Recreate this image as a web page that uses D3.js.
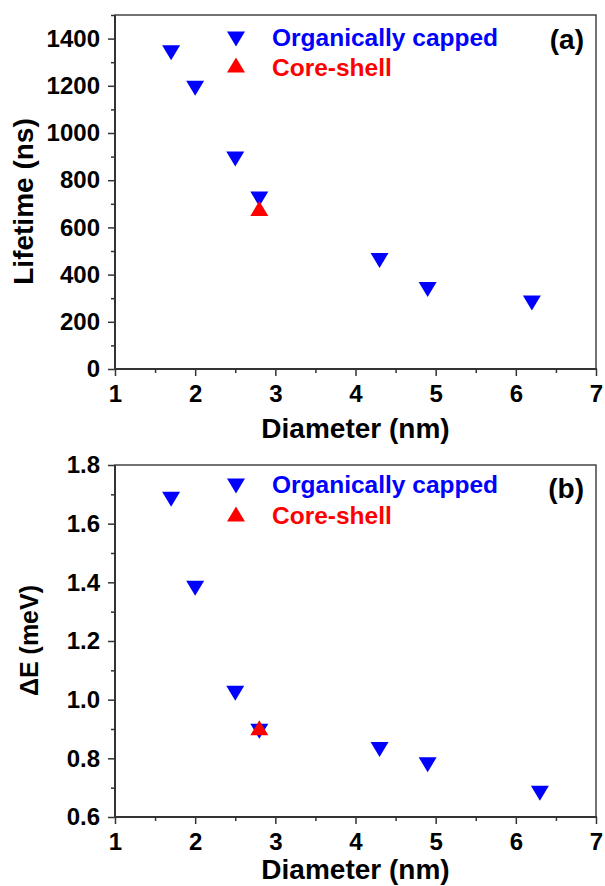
<!DOCTYPE html>
<html>
<head>
<meta charset="utf-8">
<script src="https://cdn.jsdelivr.net/npm/d3@7"></script>
<style>
  body { margin: 0; background: #fff; }
  text { font-family: "Liberation Sans", Arial, sans-serif; font-weight: bold; }
</style>
</head>
<body>
<script>
// panel (a) data
var diamA = [1.7, 2.0, 2.5, 2.8, 4.3, 4.9, 6.2];
var lifetimeA = [1340, 1190, 890, 720, 460, 337, 280];
var coreDiamA = [2.8];
var coreLifetimeA = [680];

// panel (b) data
var diamB = [1.7, 2.0, 2.5, 2.8, 4.3, 4.9, 6.3];
var deltaEB = [1.683, 1.38, 1.022, 0.892, 0.83, 0.778, 0.681];
var coreDiamB = [2.8];
var coreDeltaEB = [0.904];

var xTicks = [1, 2, 3, 4, 5, 6, 7];
var xMinor = [1.5, 2.5, 3.5, 4.5, 5.5, 6.5];
var yTicksA = [0, 200, 400, 600, 800, 1000, 1200, 1400];
var yMinorA = [100, 300, 500, 700, 900, 1100, 1300, 1500];
var yTicksB = [0.6, 0.8, 1.0, 1.2, 1.4, 1.6, 1.8];
var yMinorB = [0.7, 0.9, 1.1, 1.3, 1.5, 1.7];

var legendNames = ["Organically capped", "Core-shell"];

var svg = d3.select("body").append("svg")
    .attr("width", 605)
    .attr("height", 886);

var left = 115, right = 596;
var downTri = "M-9,-7.5L9,-7.5L0,7.5Z";
var upTri = "M-9,7.5L9,7.5L0,-7.5Z";

function panel(cfg) {
    var x = d3.scaleLinear().domain([1, 7]).range([left, right]);
    var y = d3.scaleLinear().domain(cfg.yDomain).range([cfg.bottom, cfg.top]);
    var g = svg.append("g");

    // frame
    g.append("rect")
        .attr("x", left).attr("y", cfg.top)
        .attr("width", right - left).attr("height", cfg.bottom - cfg.top)
        .attr("fill", "none").attr("stroke", "#444").attr("stroke-width", 1.5);

    // x axis
    var xa = g.append("g").attr("transform", "translate(0," + cfg.bottom + ")")
        .call(d3.axisBottom(x).tickValues(xTicks).tickFormat(d3.format("d")).tickSize(7).tickPadding(9));
    xa.append("g").call(d3.axisBottom(x).tickValues(xMinor).tickFormat("").tickSize(4));
    // y axis
    var ya = g.append("g").attr("transform", "translate(" + left + ",0)")
        .call(d3.axisLeft(y).tickValues(cfg.yTicks).tickFormat(cfg.fmt).tickSize(7).tickPadding(8));
    ya.append("g").call(d3.axisLeft(y).tickValues(cfg.yMinor).tickFormat("").tickSize(4));

    g.selectAll(".domain").remove();
    g.selectAll(".tick line").attr("stroke", "#333").attr("stroke-width", 1.5);
    g.selectAll(".tick text").attr("font-size", 24).attr("fill", "#000")
        .style("font-family", "'Liberation Sans', Arial, sans-serif").style("font-weight", "bold");

    g.append("line").attr("x1", left - 1).attr("x2", right + 1)
        .attr("y1", cfg.bottom).attr("y2", cfg.bottom)
        .attr("stroke", "#333").attr("stroke-width", 2);
    g.append("line").attr("x1", left).attr("x2", left)
        .attr("y1", cfg.top).attr("y2", cfg.bottom + 1)
        .attr("stroke", "#333").attr("stroke-width", 2);

    // points
    g.selectAll(".org").data(cfg.xs).enter().append("path")
        .attr("d", downTri)
        .attr("transform", function(d, i) { return "translate(" + x(d) + "," + y(cfg.ys[i]) + ")"; })
        .attr("fill", "#0000ff");
    g.selectAll(".core").data(cfg.cxs).enter().append("path")
        .attr("d", upTri)
        .attr("transform", function(d, i) { return "translate(" + x(d) + "," + y(cfg.cys[i]) + ")"; })
        .attr("fill", "#ff0000");

    // legend
    g.append("path").attr("d", downTri)
        .attr("transform", "translate(236," + cfg.leg1 + ")").attr("fill", "#0000ff");
    g.append("path").attr("d", upTri)
        .attr("transform", "translate(236," + cfg.leg2 + ")").attr("fill", "#ff0000");
    g.append("text").attr("x", 272).attr("y", cfg.legText1)
        .attr("font-size", 24.5).attr("fill", "#0000ff").text(legendNames[0]);
    g.append("text").attr("x", 272).attr("y", cfg.legText2)
        .attr("font-size", 24.5).attr("fill", "#ff0000").text(legendNames[1]);

    // panel label
    g.append("text").attr("x", 584).attr("y", cfg.labelY)
        .attr("text-anchor", "end").attr("font-size", 28).text(cfg.label);

    // axis titles
    g.append("text").attr("x", (left + right) / 2).attr("y", cfg.xTitleY)
        .attr("text-anchor", "middle").attr("font-size", 28).text("Diameter (nm)");
    g.append("text")
        .attr("transform", "translate(" + cfg.yTitleX + "," + cfg.yTitleY + ") rotate(-90)")
        .attr("text-anchor", "middle").attr("font-size", cfg.yTitleSize).text(cfg.yTitle);
}

panel({
    top: 15, bottom: 369, yDomain: [0, 1500],
    yTicks: yTicksA, yMinor: yMinorA, fmt: d3.format("d"),
    xs: diamA, ys: lifetimeA, cxs: coreDiamA, cys: coreLifetimeA,
    leg1: 39, leg2: 65, legText1: 46, legText2: 76,
    label: "(a)", labelY: 49, xTitleY: 438,
    yTitle: "Lifetime (ns)", yTitleX: 33, yTitleY: 201.5, yTitleSize: 28
});

panel({
    top: 465, bottom: 817, yDomain: [0.6, 1.8],
    yTicks: yTicksB, yMinor: yMinorB, fmt: d3.format(".1f"),
    xs: diamB, ys: deltaEB, cxs: coreDiamB, cys: coreDeltaEB,
    leg1: 486, leg2: 514, legText1: 493, legText2: 524,
    label: "(b)", labelY: 498, xTitleY: 879,
    yTitle: "\u0394E (meV)", yTitleX: 38, yTitleY: 640.5, yTitleSize: 25
});
</script>
</body>
</html>
